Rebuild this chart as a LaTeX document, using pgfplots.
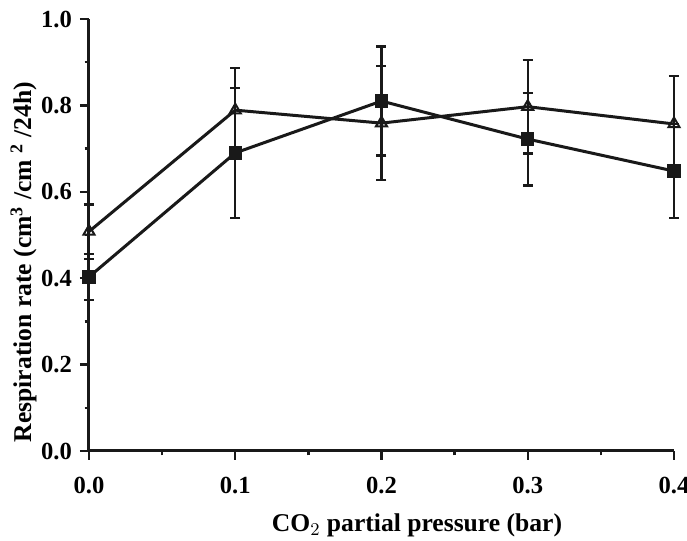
\documentclass[border=0pt]{standalone}
\usepackage{pgfplots}
\pgfplotsset{compat=1.18}
\usepackage{fontspec}
\setmainfont{Liberation Serif}
\begin{document}
\begin{tikzpicture}
\useasboundingbox (-44.5pt,-45pt) rectangle (299pt,225.5pt);
\begin{axis}[
  at={(0,0)}, anchor=south west,
  scale only axis, width=292.5pt, height=216pt,
  xmin=0, xmax=0.4, ymin=0, ymax=1.0,
  clip=false,
  axis lines=left,
  axis line style={-, line width=1.5pt, black!90},
  xtick={0,0.1,0.2,0.3,0.4},
  minor xtick={0.05,0.15,0.25,0.35},
  ytick={0,0.2,0.4,0.6,0.8,1.0},
  minor ytick={0.1,0.3,0.5,0.7,0.9},
  tick align=outside,
  major tick length=4.5pt, minor tick length=2.2pt,
  tick style={line width=1.2pt, black!90},
  ticklabel style={font=\bfseries\fontsize{12.3}{14}\selectfont},
  xticklabel style={yshift=-5pt},
  yticklabel style={xshift=-0.5pt},
  /pgf/number format/.cd, fixed, fixed zerofill, precision=1, assume math mode=true,
  /pgfplots/.cd,
  xlabel={CO$_2$ partial pressure (bar)},
  ylabel={Respiration rate (cm\textsuperscript{3} /cm \textsuperscript{2} /24h)},
  xlabel style={at={(rel axis cs:0.5607,-0.1875)}, anchor=base, font=\bfseries\fontsize{12.8}{14}\selectfont},
  ylabel style={at={(rel axis cs:-0.0991,0.4375)}, anchor=base, font=\bfseries\fontsize{12.8}{14}\selectfont},
]
% open triangles
\addplot[black!90, line width=1.5pt, mark=triangle, mark size=3.2pt,
  mark options={fill=white, line width=1pt, solid},
  error bars/.cd, y dir=both, y explicit,
  error bar style={line width=1.2pt, black!90},
  error mark options={rotate=90, mark size=2.5pt, line width=1.2pt, black!90}]
  coordinates {
    (0,0.508) +- (0,0.063)
    (0.1,0.789) +- (0,0.097)
    (0.2,0.759) +- (0,0.132)
    (0.3,0.797) +- (0,0.108)
    (0.4,0.757) +- (0,0.111)
  };
% filled squares
\addplot[black!90, line width=1.5pt, mark=square*, mark size=2.6pt,
  mark options={fill=black!90, solid},
  error bars/.cd, y dir=both, y explicit,
  error bar style={line width=1.2pt, black!90},
  error mark options={rotate=90, mark size=2.5pt, line width=1.2pt, black!90}]
  coordinates {
    (0,0.403) +- (0,0.053)
    (0.1,0.69) +- (0,0.15)
    (0.2,0.81) +- (0,0.126)
    (0.3,0.722) +- (0,0.107)
    (0.4,0.648) +- (0,0.109)
  };
\end{axis}
\end{tikzpicture}
\end{document}
